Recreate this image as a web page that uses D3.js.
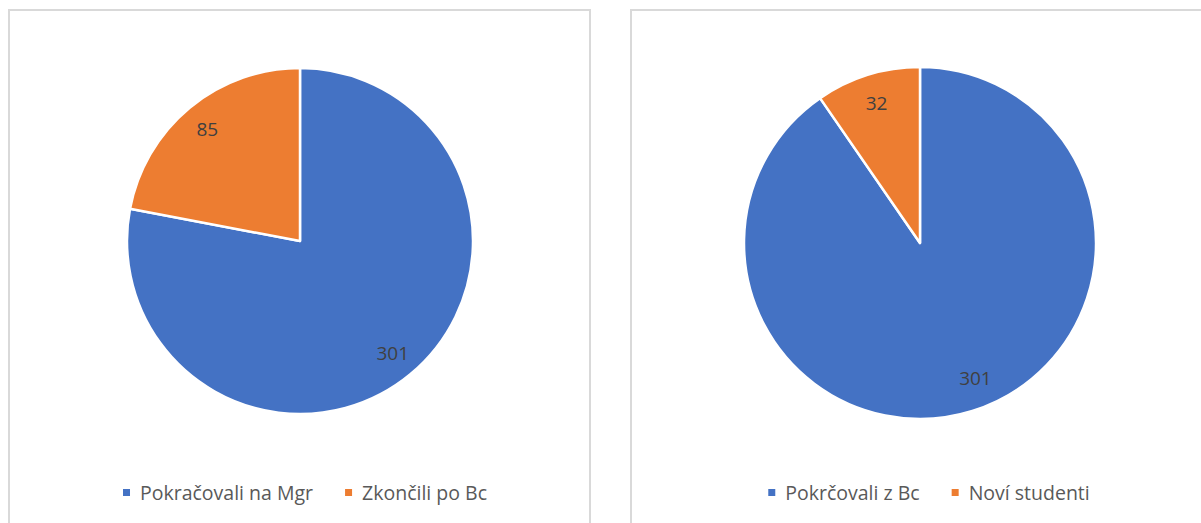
<!DOCTYPE html>
<html>
<head>
<meta charset="utf-8">
<script src="https://cdn.jsdelivr.net/npm/d3@7"></script>
<style>
  body { margin: 0; background: #fff; }
  svg { display: block; }
</style>
</head>
<body>
<svg id="chart" width="1201" height="523"></svg>
<script>
// data
const leftCategories = ['Pokračovali na Mgr', 'Zkončili po Bc'];
const leftValues = [301, 85];
const rightCategories = ['Pokrčovali z Bc', 'Noví studenti'];
const rightValues = [301, 32];
const colors = ['#4472C4', '#ED7D31'];

const svg = d3.select('#chart');

const charts = [
    { x: 9, w: 581, cx: 300, cy: 241, r: 173, labelK: 0.84, legendX: 305, cats: leftCategories, vals: leftValues },
    { x: 631, w: 620, cx: 920, cy: 243, r: 176, labelK: 0.83, legendX: 929, cats: rightCategories, vals: rightValues }
];

const color = d3.scaleOrdinal().range(colors);
const pie = d3.pie().sort(null).value(d => d.value);

charts.forEach(c => {
    // chart frame
    svg.append('rect')
        .attr('x', c.x).attr('y', 10)
        .attr('width', c.w).attr('height', 600)
        .attr('fill', '#fff')
        .attr('stroke', '#d9d9d9')
        .attr('stroke-width', 2);

    const data = c.cats.map((name, i) => ({ name, value: c.vals[i] }));
    color.domain(c.cats);

    const arc = d3.arc().innerRadius(0).outerRadius(c.r);
    const labelArc = d3.arc().innerRadius(c.r * c.labelK).outerRadius(c.r * c.labelK);

    const g = svg.append('g').attr('transform', `translate(${c.cx},${c.cy})`);

    g.selectAll('path')
        .data(pie(data))
        .enter().append('path')
        .attr('d', arc)
        .attr('fill', d => color(d.data.name))
        .attr('stroke', '#fff')
        .attr('stroke-width', 2.5)
        .attr('stroke-linejoin', 'round');

    g.selectAll('text')
        .data(pie(data))
        .enter().append('text')
        .attr('transform', d => {
            // centroid of a zero-width ring = point at labelK * r on the mid angle
            let [x, y] = labelArc.centroid(d);
            // excel "best fit" nudges the big label of the right pie a bit to the right
            if (c.cats === rightCategories && d.index === 0) { x += 12; y -= 4; }
            return `translate(${x},${y})`;
        })
        .attr('text-anchor', 'middle')
        .attr('dy', '0.35em')
        .style('font-family', '"Open Sans", sans-serif')
        .style('font-size', '19px')
        .style('fill', '#404040')
        .text(d => d.data.value);

    // legend, centered under the pie
    const legend = svg.append('g');
    const items = legend.selectAll('g')
        .data(data)
        .enter().append('g');
    items.append('rect')
        .attr('width', 7).attr('height', 7)
        .attr('y', -11)
        .attr('fill', d => color(d.name));
    items.append('text')
        .attr('x', 17)
        .style('font-family', '"Open Sans", sans-serif')
        .style('font-size', '19.5px')
        .style('fill', '#595959')
        .text(d => d.name);

    let offset = 0;
    items.each(function () {
        d3.select(this).attr('transform', `translate(${offset},0)`);
        offset += this.getBBox().width + 32;
    });
    const total = offset - 32;
    legend.attr('transform', `translate(${c.legendX - total / 2},500)`);
});
</script>
</body>
</html>
